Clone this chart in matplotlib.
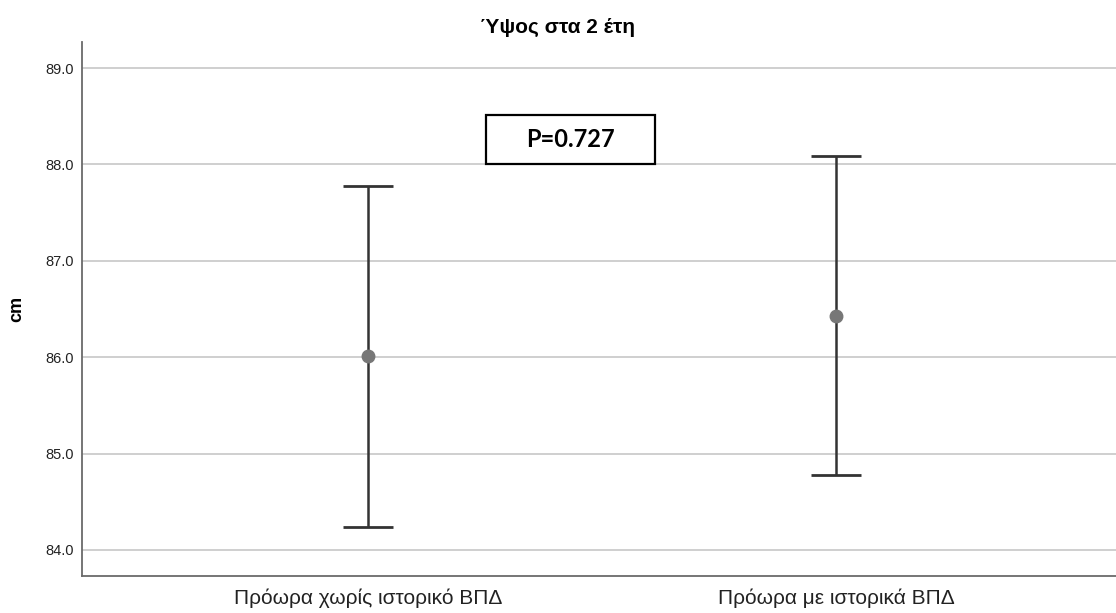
import matplotlib.pyplot as plt
from matplotlib.patches import Rectangle

# mean height at 2 years with 95% CI per group
groups = ['Πρόωρα χωρίς ιστορικό ΒΠΔ', 'Πρόωρα με ιστορικά ΒΠΔ']
means = [86.01, 86.43]
ci_low = [84.24, 84.78]
ci_high = [87.78, 88.09]
yticks = [84.0, 85.0, 86.0, 87.0, 88.0, 89.0]
p_text = 'P=0.727'

plt.rcParams['font.family'] = ['Liberation Sans', 'DejaVu Sans']

fig = plt.figure(figsize=(11.16, 6.13), dpi=100)
ax = fig.add_axes([82 / 1116, 37 / 613, 1 - 82 / 1116, (576 - 42) / 613])

x = list(range(len(groups)))
err = [[m - lo for m, lo in zip(means, ci_low)],
       [hi - m for m, hi in zip(means, ci_high)]]
ax.errorbar(x, means, yerr=err, fmt='none', ecolor='#333333', elinewidth=1.8,
            capsize=18, capthick=2.0, zorder=3)
ax.plot(x, means, 'o', color='#777777', markersize=9, zorder=4)

ax.set_xlim(-0.611, 1.598)
ax.set_ylim(83.73, 89.27)
ax.set_yticks(yticks)
ax.set_yticklabels([f'{v:.1f}' for v in yticks], fontsize=10.5, color='#222222')
ax.set_xticks(x)
ax.set_xticklabels(groups, fontsize=15, color='#222222')
ax.tick_params(axis='both', length=0)
ax.tick_params(axis='y', pad=6)
ax.tick_params(axis='x', pad=9)
ax.yaxis.grid(True, color='#cfcfcf', linewidth=1.4)
ax.set_axisbelow(True)

for side in ['top', 'right']:
    ax.spines[side].set_visible(False)
for side in ['left', 'bottom']:
    ax.spines[side].set_color('#6a6a6a')
    ax.spines[side].set_linewidth(1.3)

ax.set_ylabel('cm', fontsize=13, fontweight='bold', labelpad=14)
fig.text(0.5, 1 - 27 / 613, 'Ύψος στα 2 έτη', ha='center', va='center',
         fontsize=15, fontweight='bold')

# p-value box
bx0, bx1 = (486 - 82) / 1034, (655 - 82) / 1034
by0, by1 = 88.0, 88.51
ax.add_patch(Rectangle((bx0, by0), bx1 - bx0, by1 - by0,
                       transform=ax.get_yaxis_transform(), fill=True,
                       facecolor='white', edgecolor='black', linewidth=1.6, zorder=5))
ax.text((bx0 + bx1) / 2, (by0 + by1) / 2, p_text, transform=ax.get_yaxis_transform(),
        ha='center', va='center', fontsize=17, fontweight='bold',
        family=['Lato', 'DejaVu Sans'], zorder=6)

fig.savefig('out.png', dpi=100)
